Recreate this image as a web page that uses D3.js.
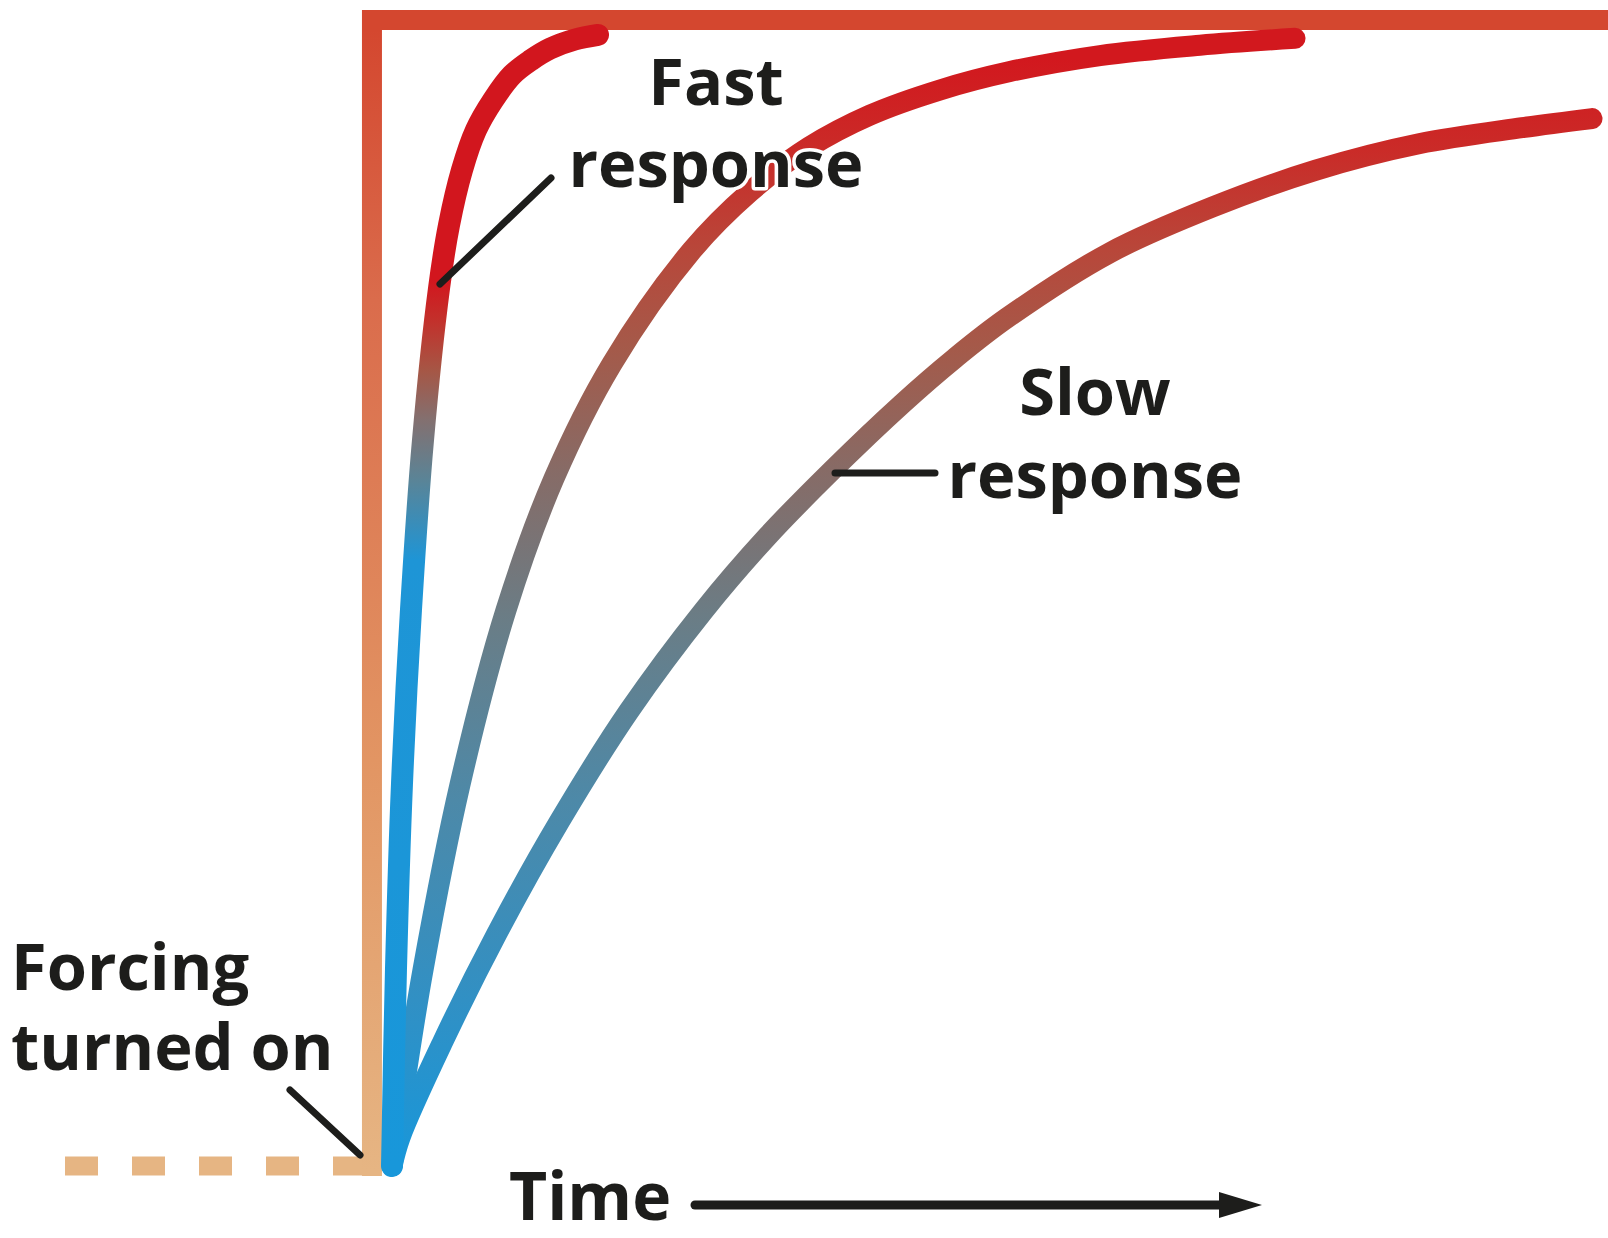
<!DOCTYPE html>
<html>
<head>
<meta charset="utf-8">
<script src="https://cdn.jsdelivr.net/npm/d3@7"></script>
<style>
  html, body { margin: 0; padding: 0; background: #ffffff; }
  svg { display: block; }
  text { font-family: "Open Sans", "Noto Sans", sans-serif; font-weight: 700; fill: #1d1d1b; }
</style>
</head>
<body>
<div id="chart"></div>
<script>
// ---------- DATA ----------
// Time axis units (arbitrary), response as fraction of full forcing (0..1)
const seriesNames = ["Fast response", "Medium response", "Slow response"];

const fastTime  = [0, 0.33, 0.83, 1.58, 2.58, 3.92, 4.75, 5.83, 7.0, 8.42, 10.0, 11.58, 13.17, 15.25, 17.17];
const fastValue = [0, 0.171, 0.333, 0.485, 0.633, 0.766, 0.821, 0.869, 0.904, 0.930, 0.952, 0.965, 0.975, 0.983, 0.987];

const mediumTime  = [0, 1.08, 2.58, 5.67, 9.5, 13.5, 18.33, 25.0, 29.83, 34.75, 39.83, 45.67, 51.5, 59.0, 67.33, 75.25];
const mediumValue = [0, 0.074, 0.171, 0.333, 0.485, 0.600, 0.700, 0.799, 0.850, 0.889, 0.917, 0.939, 0.955, 0.969, 0.978, 0.984];

const slowTime  = [0, 0.67, 4.17, 8.75, 13.92, 19.75, 26.0, 31.25, 36.67, 42.5, 46.92, 51.25, 59.83, 68.42, 77.0, 85.58, 94.17, 100];
const slowValue = [0, 0.025, 0.107, 0.203, 0.300, 0.397, 0.485, 0.549, 0.607, 0.665, 0.705, 0.740, 0.797, 0.837, 0.869, 0.892, 0.906, 0.914];

// Forcing: off (dashed) before it is turned on, then a step to full value
const forcingOffTime  = [-27.25, -1.67];
const forcingOffValue = [0, 0];
const forcingOnTime   = [-1.67, -1.67, 101.1];
const forcingOnValue  = [0, 1, 1];

const labelFast = ["Fast", "response"];
const labelSlow = ["Slow", "response"];
const labelForcing = ["Forcing", "turned on"];
const labelTime = "Time";

// ---------- LAYOUT ----------
const W = 1608, H = 1238;
const svg = d3.select("#chart").append("svg").attr("width", W).attr("height", H);

const x = d3.scaleLinear().domain([0, 100]).range([392, 1592]);
const y = d3.scaleLinear().domain([0, 1]).range([1166, 20]);

const zip = (a, b) => a.map((t, i) => [t, b[i]]);
const line = d3.line().x(d => x(d[0])).y(d => y(d[1])).curve(d3.curveCatmullRom.alpha(0.5));
const stepLine = d3.line().x(d => x(d[0])).y(d => y(d[1]));

// ---------- GRADIENTS ----------
const defs = svg.append("defs");
function grad(id, y1, y2, stops) {
  const g = defs.append("linearGradient").attr("id", id)
    .attr("gradientUnits", "userSpaceOnUse")
    .attr("x1", 0).attr("x2", 0).attr("y1", y1).attr("y2", y2);
  stops.forEach(([py, c]) => g.append("stop")
    .attr("offset", Math.max(0, Math.min(1, (y1 - py) / (y1 - y2))))
    .attr("stop-color", c));
}
grad("gForcing", 1176, 9, [[1170, "#e6b583"], [760, "#e29563"], [300, "#da6c4c"], [30, "#d4472f"]]);
grad("gFast", 1175, 30, [[1168, "#1897da"], [560, "#1e95d6"], [480, "#5a8497"], [420, "#837070"], [370, "#a65645"], [320, "#c3302b"], [280, "#d2161e"]]);
grad("gSlowMed", 1175, 30, [[1168, "#1897da"], [1000, "#3190c4"], [800, "#4d89a8"], [620, "#6a7d86"], [470, "#876b66"], [350, "#a45a4a"], [250, "#b8473a"], [150, "#ca2b28"], [60, "#d2181e"]]);

// ---------- FORCING ----------
svg.append("path")
  .attr("d", stepLine(zip(forcingOffTime, forcingOffValue)))
  .attr("fill", "none").attr("stroke", "#e6b583")
  .attr("stroke-width", 19).attr("stroke-dasharray", "33 34");

svg.append("path")
  .attr("d", stepLine(zip(forcingOnTime, forcingOnValue)))
  .attr("fill", "none").attr("stroke", "url(#gForcing)")
  .attr("stroke-width", 20).attr("stroke-linecap", "square").attr("stroke-linejoin", "miter");

// ---------- RESPONSES ----------
const curves = [
  { name: seriesNames[2], data: zip(slowTime, slowValue), stroke: "url(#gSlowMed)", w: 21 },
  { name: seriesNames[1], data: zip(mediumTime, mediumValue), stroke: "url(#gSlowMed)", w: 21 },
  { name: seriesNames[0], data: zip(fastTime, fastValue), stroke: "url(#gFast)", w: 22 }
];
svg.selectAll("path.resp").data(curves).enter().append("path")
  .attr("class", "resp")
  .attr("d", d => line(d.data))
  .attr("fill", "none")
  .attr("stroke", d => d.stroke)
  .attr("stroke-width", d => d.w)
  .attr("stroke-linecap", "round")
  .attr("stroke-linejoin", "round");

// ---------- LEADERS ----------
const leaders = [
  [[440, 284], [551, 178]],
  [[835, 473], [935, 473]],
  [[290, 1090], [360, 1155]]
];
svg.selectAll("line.leader").data(leaders).enter().append("line")
  .attr("x1", d => d[0][0]).attr("y1", d => d[0][1])
  .attr("x2", d => d[1][0]).attr("y2", d => d[1][1])
  .attr("stroke", "#1d1d1b").attr("stroke-width", 7).attr("stroke-linecap", "round");

// ---------- LABELS ----------
function label(lines, xPos, baseline, lh, anchor, size) {
  const t = svg.append("text")
    .attr("text-anchor", anchor)
    .attr("font-size", size)
    .attr("stroke", "#ffffff").attr("stroke-width", 7)
    .attr("stroke-linejoin", "round")
    .style("paint-order", "stroke");
  lines.forEach((s, i) => t.append("tspan").attr("x", xPos).attr("y", baseline + i * lh).text(s));
}
label(labelFast, 716, 105, 82, "middle", 65);
label(labelSlow, 1095, 415, 83, "middle", 65);
label(labelForcing, 11, 990, 80, "start", 65);

svg.append("text").attr("x", 509).attr("y", 1220).attr("font-size", 66).text(labelTime);

// Time arrow
svg.append("line").attr("x1", 695).attr("y1", 1205).attr("x2", 1225).attr("y2", 1205)
  .attr("stroke", "#1d1d1b").attr("stroke-width", 9).attr("stroke-linecap", "round");
svg.append("path").attr("d", "M1219,1192 L1262,1205 L1219,1218 Z").attr("fill", "#1d1d1b");
</script>
</body>
</html>
